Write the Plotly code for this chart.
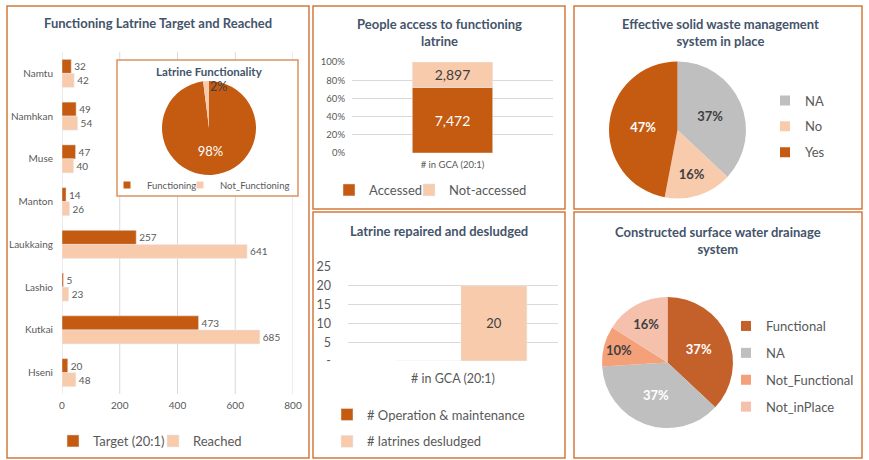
import plotly.graph_objects as go

W, H = 869, 460
def X(px): return px / W
def Y(py): return 1 - py / H

# ---------------- data ----------------
districts = ["Namtu", "Namhkan", "Muse", "Manton", "Laukkaing", "Lashio", "Kutkai", "Hseni"]
target = [32, 49, 47, 14, 257, 5, 473, 20]
reached = [42, 54, 40, 26, 641, 23, 685, 48]
bar_ticks = [0, 200, 400, 600, 800]

func_labels = ["Functioning", "Not_Functioning"]
func_values = [98, 2]

access_cat = ["# in GCA (20:1)"]
accessed = [7472]
not_accessed = [2897]
pct_ticks = [0, 0.2, 0.4, 0.6, 0.8, 1.0]

repair_cat = ["# in GCA (20:1)"]
om_values = [0]
desludged = [20]
repair_ticks = [0, 5, 10, 15, 20, 25]

waste_labels = ["NA", "No", "Yes"]
waste_values = [37, 16, 47]

drain_labels = ["Functional", "NA", "Not_Functional", "Not_inPlace"]
drain_values = [37, 37, 10, 16]

# ---------------- styles ----------------
FONT = "Lato"
DARK = "#C55A11"
LIGHT = "#F8CBAD"
GRAY = "#BFBFBF"
FUNC = "#C4612A"
NOTF = "#F4A179"
NIP = "#F5C0AC"
TITLE = "#44546A"
LBL = "#595959"
DTXT = "#404040"
GRID = "#D9D9D9"
BORDER = "#D27A3C"

waste_colors = [GRAY, LIGHT, DARK]
drain_colors = [FUNC, GRAY, NOTF, NIP]
func_colors = [DARK, LIGHT]

fig = go.Figure()

# ---- Panel 1: horizontal grouped bars ----
fig.add_trace(go.Bar(y=districts, x=target, orientation="h", name="Target (20:1)",
                     marker_color=DARK, text=target, textposition="outside",
                     textfont=dict(size=10, color=LBL), cliponaxis=False,
                     xaxis="x", yaxis="y", legend="legend", hoverinfo="skip"))
fig.add_trace(go.Bar(y=districts, x=reached, orientation="h", name="Reached",
                     marker_color=LIGHT, text=reached, textposition="outside",
                     textfont=dict(size=10, color=LBL), cliponaxis=False,
                     xaxis="x", yaxis="y", legend="legend2", hoverinfo="skip"))

# ---- Panel 2: 100% stacked bar ----
totals = [a + n for a, n in zip(accessed, not_accessed)]
share_acc = [a / t for a, t in zip(accessed, totals)]
share_not = [n / t for n, t in zip(not_accessed, totals)]
fig.add_trace(go.Bar(x=access_cat, y=share_acc, name="Accessed", marker_color=DARK,
                     width=0.4, offset=-0.2,
                     text=[f"{v:,}" for v in accessed], textposition="inside",
                     insidetextanchor="middle", textfont=dict(size=14, color="white"),
                     xaxis="x2", yaxis="y2", legend="legend3", hoverinfo="skip"))
fig.add_trace(go.Bar(x=access_cat, y=share_not, base=share_acc, name="Not-accessed",
                     marker_color=LIGHT, width=0.4, offset=-0.2,
                     text=[f"{v:,}" for v in not_accessed], textposition="inside",
                     insidetextanchor="middle", textfont=dict(size=14, color=DTXT),
                     xaxis="x2", yaxis="y2", legend="legend4", hoverinfo="skip"))

# ---- Panel 3: clustered bars ----
fig.add_trace(go.Bar(x=repair_cat, y=om_values, name="# Operation & maintenance",
                     marker_color=DARK, width=0.314, offset=-0.276,
                     xaxis="x3", yaxis="y3", legend="legend5", legendgroup="om",
                     hoverinfo="skip"))
fig.add_trace(go.Bar(x=repair_cat, y=desludged, name="# latrines desludged",
                     marker_color=LIGHT, width=0.314, offset=0.038,
                     text=desludged, textposition="inside", insidetextanchor="middle",
                     textfont=dict(size=13, color=DTXT),
                     xaxis="x3", yaxis="y3", legend="legend5", legendgroup="ds",
                     hoverinfo="skip"))

# ---- Inset pie: latrine functionality ----
func_total = sum(func_values)
fig.add_trace(go.Pie(labels=func_labels, values=func_values, sort=False,
                     direction="clockwise", rotation=0,
                     marker=dict(colors=func_colors, line=dict(width=0)),
                     texttemplate=["%{percent:.0%}", ""], textposition="inside",
                     insidetextfont=dict(size=13, color="white"),
                     insidetextorientation="horizontal",
                     domain=dict(x=[X(162), X(256)], y=[Y(175), Y(81)]),
                     showlegend=False, hoverinfo="skip"))

# ---- Panel 4: solid waste pie ----
fig.add_trace(go.Pie(labels=waste_labels, values=waste_values, sort=False,
                     direction="clockwise", rotation=0,
                     marker=dict(colors=waste_colors, line=dict(width=0)),
                     texttemplate="%{percent:.0%}", textposition="inside",
                     textfont=dict(size=13, color=[DTXT, DTXT, "white"], weight="bold"),
                     insidetextorientation="horizontal",
                     domain=dict(x=[X(609), X(746)], y=[Y(198.5), Y(61.5)]),
                     showlegend=False, hoverinfo="skip"))

# ---- Panel 5: drainage pie ----
fig.add_trace(go.Pie(labels=drain_labels, values=drain_values, sort=False,
                     direction="clockwise", rotation=0,
                     marker=dict(colors=drain_colors, line=dict(width=0)),
                     texttemplate="%{percent:.0%}", textposition="inside",
                     textfont=dict(size=13, color=["white", "white", DTXT, DTXT], weight="bold"),
                     insidetextorientation="horizontal",
                     domain=dict(x=[X(602), X(733)], y=[Y(428), Y(297)]),
                     showlegend=False, hoverinfo="skip"))

# legend entries for the pies (one per slice, spaced like the original)
def legend_entry(lab, col, legend_id, size=10):
    fig.add_trace(go.Scatter(x=[None], y=[None], mode="markers", name=lab,
                             marker=dict(symbol="square", size=size, color=col),
                             xaxis="x3", yaxis="y3", legend=legend_id,
                             legendgroup=legend_id + "_" + lab, hoverinfo="skip"))

legend_entry(func_labels[0], func_colors[0], "legend8", 7)
legend_entry(func_labels[1], func_colors[1], "legend9", 7)
for lab, col in zip(waste_labels, waste_colors):
    legend_entry(lab, col, "legend6")
for lab, col in zip(drain_labels, drain_colors):
    legend_entry(lab, col, "legend7")

# ---------------- shapes ----------------
shapes = []
IN_L, IN_T, IN_R, IN_B = 117, 60, 298, 196
P1_L, P1_R, P1_T, P1_B = 62, 293, 52, 394
for v in bar_ticks:
    px = P1_L + v / bar_ticks[-1] * (P1_R - P1_L)
    if IN_L <= px <= IN_R:
        segs = [(P1_B, IN_B), (IN_T, P1_T)]
    else:
        segs = [(P1_B, P1_T)]
    for a, b in segs:
        shapes.append(dict(type="line", xref="x", yref="paper", x0=v, x1=v,
                           y0=Y(a), y1=Y(b), line=dict(color=GRID, width=1), layer="below"))

def rect(l, t, r, b, color=BORDER, width=1.5):
    return dict(type="rect", xref="paper", yref="paper", x0=X(l), x1=X(r),
                y0=Y(b), y1=Y(t), line=dict(color=color, width=width),
                fillcolor="rgba(0,0,0,0)", layer="above")

shapes += [
    rect(7, 6, 309, 458),
    rect(313, 6, 565, 209),
    rect(313, 212, 565, 458),
    rect(574, 6, 862, 209),
    rect(574, 212, 862, 458),
    rect(IN_L, IN_T, IN_R, IN_B, color="#DE9160", width=1.5),
]

# ---------------- annotations ----------------
def title(text, x, y, size=13):
    return dict(text=f"<b>{text}</b>", x=X(x), y=Y(y), xref="paper", yref="paper",
                showarrow=False, xanchor="center", yanchor="middle",
                font=dict(family=FONT, size=size, color=TITLE))

annotations = [
    title("Functioning Latrine Target and Reached", 158, 23),
    title("Latrine Functionality", 209, 71, 11.5),
    title("People access to functioning<br>latrine", 439, 32),
    title("Latrine repaired and desludged", 439, 231),
    title("Effective solid waste management<br>system in place", 720, 32),
    title("Constructed surface water drainage<br>system", 718, 240),
    # small-slice label of the inset pie (placed next to its slice, as in the original)
    dict(text=f"{func_values[1] / func_total:.0%}", x=X(218), y=Y(86), xref="paper",
         yref="paper", showarrow=False, xanchor="center", yanchor="middle",
         font=dict(family=FONT, size=12.5, color=DTXT)),
]

axis_font = dict(family=FONT, size=10, color=LBL)
leg_font = dict(family=FONT, size=13, color=LBL)

def hleg(x, y, font=leg_font):
    return dict(orientation="h", x=X(x), y=Y(y), xanchor="left", yanchor="middle",
                font=font, bgcolor="rgba(0,0,0,0)")

def vleg(x, y, gap):
    return dict(orientation="v", x=X(x), y=Y(y), xanchor="left", yanchor="middle",
                font=leg_font, bgcolor="rgba(0,0,0,0)", traceorder="grouped",
                tracegroupgap=gap)

small_leg_font = dict(family=FONT, size=9.5, color=LBL)

fig.update_layout(
    width=W, height=H, margin=dict(l=0, r=0, t=0, b=0, autoexpand=False),
    paper_bgcolor="white", plot_bgcolor="rgba(0,0,0,0)",
    font=dict(family=FONT, color=LBL),
    barmode="group", bargap=0.345, bargroupgap=0,
    shapes=shapes, annotations=annotations,
    xaxis=dict(domain=[X(P1_L), X(P1_R)], range=[0, 800], tickvals=bar_ticks,
               showgrid=False, zeroline=False, showline=False, ticks="",
               tickfont=axis_font, ticklabelstandoff=4, anchor="y", fixedrange=True,
               automargin=False),
    yaxis=dict(domain=[Y(P1_B), Y(P1_T)], type="category", categoryorder="array",
               categoryarray=districts, autorange="reversed", showgrid=False,
               zeroline=False, showline=False, ticks="", ticklabelstandoff=8,
               tickfont=axis_font, anchor="x", fixedrange=True, automargin=False),
    xaxis2=dict(domain=[X(352), X(553)], type="category", showgrid=False,
                zeroline=False, showline=False, ticks="",
                tickfont=dict(family=FONT, size=9.5, color=LBL), ticklabelstandoff=4,
                anchor="y2", fixedrange=True, automargin=False),
    yaxis2=dict(domain=[Y(153), Y(62)], range=[0, 1], tickvals=pct_ticks, tickformat=".0%",
                showgrid=True, gridcolor=GRID, zeroline=False, showline=False, ticks="",
                tickfont=dict(family=FONT, size=9.5, color=LBL), ticklabelstandoff=6,
                anchor="x2", fixedrange=True, automargin=False),
    xaxis3=dict(domain=[X(348), X(558)], type="category", showgrid=False,
                zeroline=False, showline=False, ticks="",
                tickfont=dict(family=FONT, size=12.5, color=LBL),
                ticklabelstandoff=8, anchor="y3", fixedrange=True, automargin=False),
    yaxis3=dict(domain=[Y(361), Y(267)], range=[0, 25], tickvals=repair_ticks,
                ticktext=["-" if v == 0 else str(v) for v in repair_ticks],
                showgrid=True, gridcolor=GRID, zeroline=False, showline=False, ticks="",
                tickfont=dict(family=FONT, size=12.5, color=LBL), ticklabelstandoff=16,
                anchor="x3", fixedrange=True, automargin=False),
    legend=hleg(53, 441),
    legend2=hleg(153, 441),
    legend3=hleg(329, 190),
    legend4=hleg(409, 190),
    legend5=vleg(327, 428, 7),
    legend6=vleg(765, 126.5, 6),
    legend7=vleg(726, 366.5, 7),
    legend8=hleg(107, 185, small_leg_font),
    legend9=hleg(180, 185, small_leg_font),
)

fig.write_html("out.html")
